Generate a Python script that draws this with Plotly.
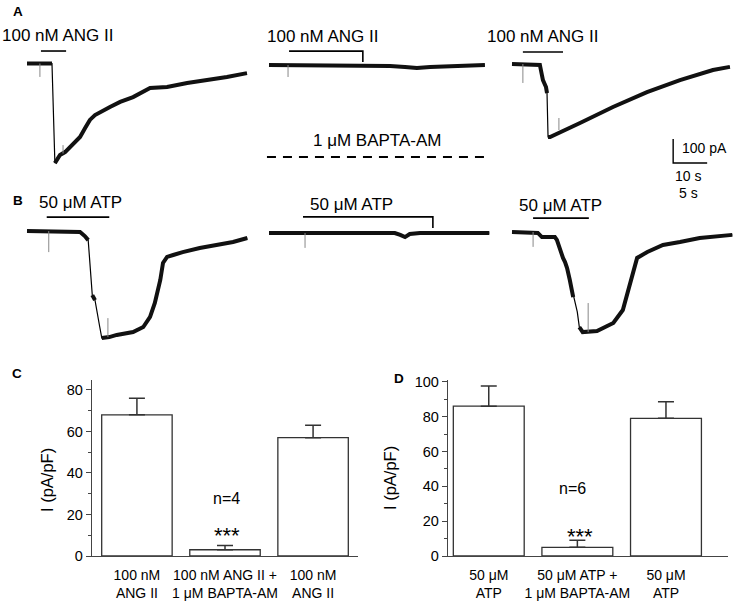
import plotly.graph_objects as go

W, H = 736, 604

# === DATA: current traces (time in s, current in pA, 0 = holding baseline) ===
# A1: 100 nM ANG II
a1_t = [0, 7.35, 8.2, 9.7, 11.2, 12.6, 14.1, 15.6, 17.1, 18.5, 20.0, 21.5, 24.4, 27.4, 31.2, 36.2, 41.2, 47.1, 52.9, 58.8, 64.7]
a1_i = [0, 0, -415, -381, -369, -348, -331, -306, -269, -235, -215, -202, -181, -160, -140, -102, -98, -81, -69, -56, -40]
a1_spk_t = [3.8, 10.6]
a1_spk_from = [0, -375]
a1_spk_to = [-56, -340]
a1_drug = [4.1, 11.5]

# A2: 100 nM ANG II + 1 uM BAPTA-AM
a2_t = [0, 9.1, 23.8, 35.6, 40.0, 43.5, 47.4, 53.2, 63.5]
a2_i = [0, 0, 0, -4, -8, -12, -8, -4, 0]
a2_spk_t = [5.6]
a2_spk_from = [0]
a2_spk_to = [-50]
a2_drug = [5.9, 27.6]

# A3: 100 nM ANG II (wash)
a3_t = [0, 8.2, 8.8, 9.1, 10.0, 10.3, 10.6, 11.2, 20.0, 29.7, 39.7, 49.4, 59.1, 64.1]
a3_i = [0, -4, -46, -67, -96, -121, -304, -304, -246, -179, -117, -67, -25, -12]
a3_spk_t = [3.2, 13.8]
a3_spk_from = [0, -275]
a3_spk_to = [-79, -225]
a3_drug = [3.2, 15.0]

# B1: 50 uM ATP
b1_t = [0, 7.8, 8.5, 9.0, 9.6, 10.0, 10.7, 11.0, 12.1, 13.2, 15.6, 17.1, 18.1, 18.8, 19.6, 20.0, 20.6, 21.5, 22.9, 25.4, 27.9, 30.3, 32.4]
b1_i = [0, -4, -21, -38, -267, -288, -400, -446, -442, -433, -421, -400, -358, -300, -204, -133, -108, -100, -88, -71, -58, -46, -29]
b1_spk_t = [3.2, 11.9]
b1_spk_from = [0, -442]
b1_spk_to = [-88, -363]
b1_drug = [2.9, 12.1]

# B2: 50 uM ATP + 1 uM BAPTA-AM
b2_t = [0, 9.0, 18.5, 19.3, 20.0, 20.7, 22.2, 32.4]
b2_i = [0, 0, 0, -8, -17, -4, 0, 0]
b2_spk_t = [5.3]
b2_spk_from = [0]
b2_spk_to = [-62]
b2_drug = [5.0, 24.1]

# B3: 50 uM ATP (wash)
b3_t = [0, 3.8, 4.4, 6.3, 6.6, 7.1, 7.5, 7.8, 8.1, 8.5, 9.0, 9.6, 9.9, 10.4, 12.5, 14.9, 16.3, 17.4, 18.4, 19.9, 22.2, 24.7, 27.6, 32.4]
b3_i = [0, -4, -21, -21, -33, -83, -108, -125, -150, -200, -271, -333, -396, -417, -413, -379, -325, -213, -108, -83, -54, -42, -25, -12]
b3_spk_t = [3.1, 11.2]
b3_spk_from = [0, -417]
b3_spk_to = [-62, -296]
b3_drug = [3.1, 11.3]

# === DATA: bar charts ===
c_labels = ["100 nM<br>ANG II", "100 nM ANG II +<br>1 μM BAPTA-AM", "100 nM<br>ANG II"]
c_mean = [68, 3, 57]
c_sem = [8, 2, 6]
d_labels = ["50 μM<br>ATP", "50 μM ATP +<br>1 μM BAPTA-AM", "50 μM<br>ATP"]
d_mean = [86, 5, 79]
d_sem = [11.5, 4, 9.5]

FONT = "Liberation Sans, Arial, sans-serif"
PPA = 0.24               # px per pA
PPS_A, PPS_B = 3.4, 6.8  # px per s


def refs(n):
    return ("x", "y") if n == 1 else (f"x{n}", f"y{n}")


def keys(n):
    return ("xaxis", "yaxis") if n == 1 else (f"xaxis{n}", f"yaxis{n}")


fig = go.Figure()
layout_axes = {}


def trace_axes(n, box, origin, pps):
    x0, y0, x1, y1 = box
    ox, oy = origin
    xr, yr = refs(n)
    xk, yk = keys(n)
    layout_axes[xk] = dict(domain=[x0 / W, x1 / W], range=[(x0 - ox) / pps, (x1 - ox) / pps],
                           visible=False, anchor=yr)
    layout_axes[yk] = dict(domain=[1 - y1 / H, 1 - y0 / H], range=[-(y1 - oy) / PPA, -(y0 - oy) / PPA],
                           visible=False, anchor=xr)


def add_rec(n, t, i, thin, spk_t, spk_from, spk_to, drug, level, tick_to, label, label_level):
    xr, yr = refs(n)
    # thin line through everything (fast transitions)
    fig.add_trace(go.Scatter(x=t, y=i, mode="lines", line=dict(color="black", width=1.2),
                             xaxis=xr, yaxis=yr, hoverinfo="skip"))
    # thick noisy band
    xs, ys = [], []
    for k in range(len(t)):
        xs.append(t[k]); ys.append(i[k])
        if k in thin:
            xs.append(None); ys.append(None)
    fig.add_trace(go.Scatter(x=xs, y=ys, mode="lines", line=dict(color="#111", width=4),
                             xaxis=xr, yaxis=yr, hoverinfo="skip"))
    # artefact spikes
    sx, sy = [], []
    for k in range(len(spk_t)):
        sx += [spk_t[k], spk_t[k], None]
        sy += [spk_from[k], spk_to[k], None]
    fig.add_trace(go.Scatter(x=sx, y=sy, mode="lines", line=dict(color="#888", width=1),
                             xaxis=xr, yaxis=yr, hoverinfo="skip"))
    # drug application bar
    bx = [drug[0], drug[1]]
    by = [level, level]
    if tick_to is not None:
        bx.append(drug[1]); by.append(tick_to)
    fig.add_trace(go.Scatter(x=bx, y=by, mode="lines", line=dict(color="black", width=1.6),
                             xaxis=xr, yaxis=yr, hoverinfo="skip"))
    fig.add_annotation(x=label[1], y=label_level, xref=xr, yref=yr, text=label[0], showarrow=False,
                       font=dict(size=17, color="black", family=FONT))


# --- trace panels ---
trace_axes(1, (0, 25, 255, 200), (27, 63.5), PPS_A)
trace_axes(2, (258, 25, 495, 200), (269, 65), PPS_A)
trace_axes(3, (498, 25, 736, 200), (512, 64), PPS_A)
trace_axes(4, (0, 190, 255, 360), (27, 231), PPS_B)
trace_axes(5, (258, 190, 495, 360), (269, 233), PPS_B)
trace_axes(6, (498, 190, 736, 360), (512, 232), PPS_B)

add_rec(1, a1_t, a1_i, {1}, a1_spk_t, a1_spk_from, a1_spk_to, a1_drug, 52, None,
        ("100 nM ANG II", 9.1), 115)
add_rec(2, a2_t, a2_i, set(), a2_spk_t, a2_spk_from, a2_spk_to, a2_drug, 58, 12,
        ("100 nM ANG II", 16.0), 120)
add_rec(3, a3_t, a3_i, {5}, a3_spk_t, a3_spk_from, a3_spk_to, a3_drug, 50, None,
        ("100 nM ANG II", 9.1), 113)
add_rec(4, b1_t, b1_i, {3, 5, 6}, b1_spk_t, b1_spk_from, b1_spk_to, b1_drug, 58, None,
        ("50 μM ATP", 7.8), 117)
add_rec(5, b2_t, b2_i, set(), b2_spk_t, b2_spk_from, b2_spk_to, b2_drug, 67, 21,
        ("50 μM ATP", 12.2), 117)
add_rec(6, b3_t, b3_i, {10, 11}, b3_spk_t, b3_spk_from, b3_spk_to, b3_drug, 58, None,
        ("50 μM ATP", 7.1), 112)

# BAPTA-AM dashed bar in panel A2
fig.add_trace(go.Scatter(x=[-0.6, 63.5], y=[-383, -383], mode="lines", xaxis="x2", yaxis="y2",
                         line=dict(color="black", width=2, dash="9px,7px"), hoverinfo="skip"))
fig.add_annotation(x=32, y=-313, xref="x2", yref="y2", text="1 μM BAPTA-AM", showarrow=False,
                   font=dict(size=17, color="black", family=FONT))

# scale bar (100 pA, 10 s in A / 5 s in B)
fig.add_trace(go.Scatter(x=[47.4, 47.4, 57.4], y=[-312.5, -412.5, -412.5], mode="lines",
                         xaxis="x3", yaxis="y3", line=dict(color="black", width=1.4), hoverinfo="skip"))
fig.add_annotation(x=49.4, y=-350, xref="x3", yref="y3", text="100 pA", showarrow=False, xanchor="left",
                   font=dict(size=14, color="black", family=FONT))
fig.add_annotation(x=51.8, y=-467, xref="x3", yref="y3", text="10 s", showarrow=False,
                   font=dict(size=14, color="black", family=FONT))
fig.add_annotation(x=25.9, y=162, xref="x6", yref="y6", text="5 s", showarrow=False,
                   font=dict(size=14, color="black", family=FONT))


# --- bar charts C and D ---
def bar_panel(n, labels, mean, sem, xdom, xrange_, yrange_):
    xr, yr = refs(n)
    xk, yk = keys(n)
    fig.add_trace(go.Bar(x=[0, 1, 2], y=mean, width=0.8, xaxis=xr, yaxis=yr,
                         marker=dict(color="white", line=dict(color="#333", width=1.3)),
                         error_y=dict(type="data", array=sem, arrayminus=[0, 0, 0], symmetric=False,
                                      color="#333", thickness=1.5, width=8),
                         hoverinfo="skip"))
    layout_axes[xk] = dict(domain=[xdom[0] / W, xdom[1] / W], range=xrange_, anchor=yr,
                           tickvals=[0, 1, 2], ticktext=labels, ticks="", showline=True,
                           linecolor="#444", linewidth=1.3, showgrid=False, zeroline=False,
                           tickfont=dict(size=14, color="black", family=FONT), ticklabelstandoff=6)
    layout_axes[yk] = dict(domain=[1 - 556 / H, 1 - 380 / H], range=yrange_, anchor=xr,
                           dtick=20, ticks="outside", ticklen=5, tickwidth=1.2, tickcolor="#444",
                           minor=dict(dtick=10, ticks="outside", ticklen=3, tickcolor="#444", showgrid=False),
                           showline=True, linecolor="#444", linewidth=1.3, showgrid=False, zeroline=False,
                           tickfont=dict(size=14.5, color="black", family=FONT))


bar_panel(7, c_labels, c_mean, c_sem, (92, 358), [-0.51, 2.51], [0, 84.8])
bar_panel(8, d_labels, d_mean, d_sem, (448, 728), [-0.46, 2.70], [0, 101])

fig.add_annotation(x=1.02, y=27.5, xref="x7", yref="y7", text="n=4", showarrow=False,
                   font=dict(size=16, color="black", family=FONT))
fig.add_annotation(x=1.02, y=10, xref="x7", yref="y7", text="***", showarrow=False,
                   font=dict(size=22, color="black", family=FONT))
fig.add_annotation(x=0.94, y=38.6, xref="x8", yref="y8", text="n=6", showarrow=False,
                   font=dict(size=16, color="black", family=FONT))
fig.add_annotation(x=1.03, y=11, xref="x8", yref="y8", text="***", showarrow=False,
                   font=dict(size=22, color="black", family=FONT))

# y titles
for xp, yp in [(47, 480), (390, 478)]:
    fig.add_annotation(x=xp / W, y=1 - yp / H, xref="paper", yref="paper", text="I (pA/pF)",
                       xanchor="center", yanchor="middle", textangle=-90, showarrow=False,
                       font=dict(size=16.5, color="black", family=FONT))

# panel letters
for letter, xp, yp in [("A", 18, 11), ("B", 18, 200), ("C", 17, 373), ("D", 399, 378)]:
    fig.add_annotation(x=xp / W, y=1 - yp / H, xref="paper", yref="paper", text=f"<b>{letter}</b>",
                       xanchor="center", yanchor="middle", showarrow=False,
                       font=dict(size=13.5, color="black", family=FONT))

fig.update_layout(width=W, height=H, margin=dict(l=0, r=0, t=0, b=0, autoexpand=False), showlegend=False,
                  paper_bgcolor="white", plot_bgcolor="rgba(0,0,0,0)",
                  font=dict(family=FONT, color="black"), **layout_axes)

# page body margin would shift the figure by 8 px
fig.write_html("out.html", config={"displayModeBar": False},
               post_script="document.body.style.margin='0';")
